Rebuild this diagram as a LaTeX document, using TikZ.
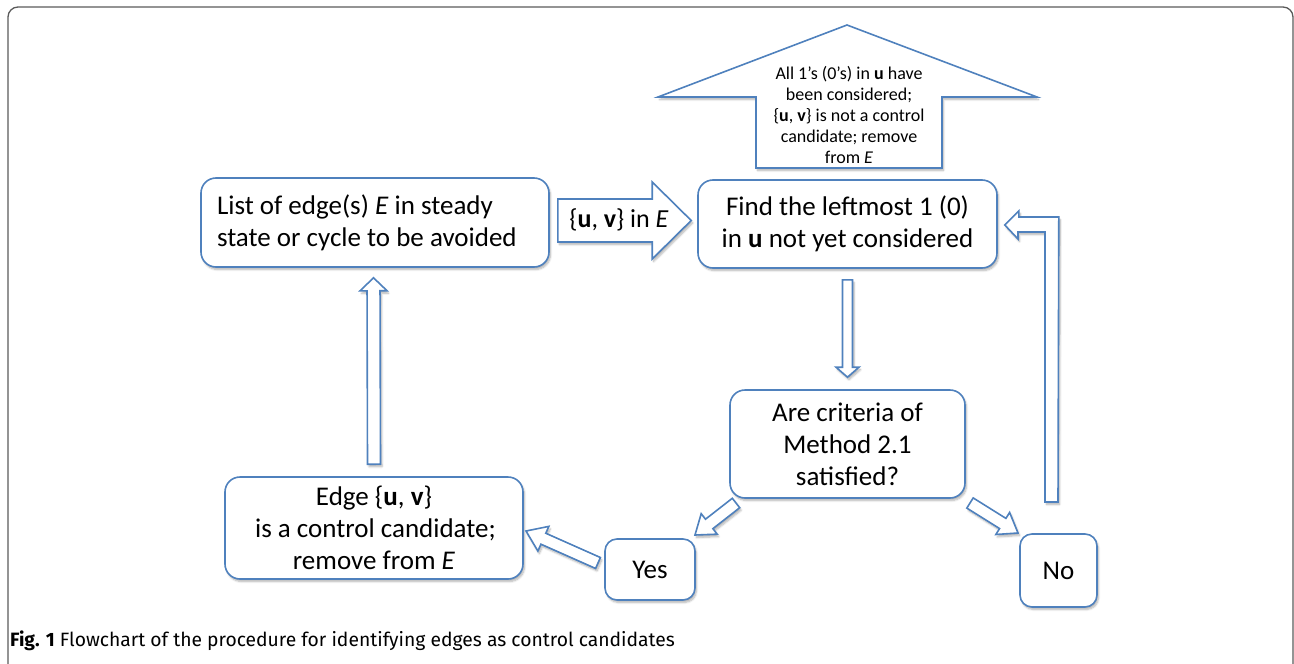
\documentclass[tikz,border=0pt]{standalone}
\usepackage{fontspec}
\setmainfont{Carlito}
\newfontfamily\capfont{Fira Sans}
\usetikzlibrary{calc,shadows.blur}
\definecolor{bblue}{HTML}{4F81BD}
\definecolor{framegray}{HTML}{5A5A5A}
\tikzset{
  shad/.style={blur shadow={shadow xshift=1.5pt, shadow yshift=-2.5pt, shadow opacity=30, shadow blur steps=6}},
  box/.style={draw=bblue, line width=1.6pt, rounded corners=15pt, fill=white, inner sep=0pt,
    align=center, font=\fontsize{27}{32}\selectfont, shad},
  smallbox/.style={box, rounded corners=12pt},
  arr/.style={draw=bblue, line width=1.6pt, fill=white, line join=miter, shad},
}
\newcommand\barrow[5]{%
  \path ($(#2)!#5!(#1)$) coordinate (bn);
  \draw[arr] ($(#1)!#3!90:(#2)$) -- ($(bn)!#3!90:(#2)$) -- ($(bn)!#4!90:(#2)$) -- (#2)
    -- ($(bn)!#4!-90:(#2)$) -- ($(bn)!#3!-90:(#2)$) -- ($(#1)!#3!-90:(#2)$) -- cycle;}
\begin{document}
\begin{tikzpicture}[x=1pt,y=-1pt]
\useasboundingbox (0,0) rectangle (1294,664);
% frame
\draw[framegray, line width=1.3pt, rounded corners=10pt] (8,720) -- (8,7) -- (1293,7) -- (1293,720);

% boxes
\node[box, minimum width=348pt, minimum height=89pt, text width=316pt, align=flush left] (list) at (375,222.5)
  {List of edge(s) \textit{E} in steady\\state or cycle to be avoided};
\node[box, minimum width=299pt, minimum height=88pt] (find) at (847.5,224)
  {Find the leftmost 1 (0)\\in \textbf{u} not yet considered};
\node[box, minimum width=235pt, minimum height=108pt] (crit) at (847.5,444)
  {Are criteria of\\Method 2.1\\satisfied?};
\node[box, minimum width=298pt, minimum height=102pt] (cand) at (374,528)
  {Edge \{\textbf{u}, \textbf{v}\}\\\hspace*{3pt}is a control candidate;\\remove from \textit{E}};
\node[smallbox, minimum width=90pt, minimum height=61pt] (yes) at (650,569.5) {Yes};
\node[smallbox, minimum width=77pt, minimum height=73pt] (no) at (1058.5,570.5) {No};

% top block arrow with note
\draw[arr] (847,25) -- (1037,97) -- (942,97) -- (942,168) -- (756,168) -- (756,97) -- (658,97) -- cycle;
\node[align=center, inner sep=0pt, font=\fontsize{18}{21}\selectfont] (note) at (849,115)
  {All 1’s (0’s) in \textbf{u} have\\been considered;\\\{\textbf{u}, \textbf{v}\} is not a control\\candidate; remove\\from \textit{E}};

% block arrows
\coordinate (eT) at ($(list.east)+(8,-2)$);
\coordinate (eH) at ($(find.west)+(-6,-3.5)$);
\barrow{eT}{eH}{21.5pt}{38.5pt}{39pt}
\node[inner sep=0pt, font=\fontsize{26}{30}\selectfont] (edge) at (619,220) {\{\textbf{u}, \textbf{v}\} in \textit{E}};

\coordinate (dT) at ($(find.south)+(0,11)$);
\coordinate (dH) at ($(crit.north)+(0,-12)$);
\barrow{dT}{dH}{5pt}{11.5pt}{10pt}

\coordinate (uT) at ($(cand.north)+(0,-12)$);
\coordinate (uH) at ($(list.south)+(-1.5,10)$);
\barrow{uT}{uH}{6.5pt}{13.5pt}{13pt}

\coordinate (yT) at (736,503);
\coordinate (yH) at (695,535);
\barrow{yT}{yH}{6pt}{13pt}{18pt}

\coordinate (cT) at (598,563);
\coordinate (cH) at (526,531);
\barrow{cT}{cH}{6pt}{13.5pt}{19pt}

\coordinate (nT) at (970,503);
\coordinate (nH) at (1018,533);
\barrow{nT}{nH}{6pt}{13pt}{18pt}

% bent return arrow from No to Find
\coordinate (rH) at ($(find.east)+(7,1)$);
\draw[arr] (rH) -- ++(14,-14) -- ++(0,6) -- ++(40,0) -- (1058,502) -- (1045,502) -- (1045,232)
  -- (1018,232) -- (1018,239) -- cycle;

% caption
\node[anchor=west, inner sep=0pt, font=\capfont\fontsize{19.3}{22}\selectfont] (cap) at (10,641)
  {\textbf{Fig. 1} Flowchart of the procedure for identifying edges as control candidates};
\end{tikzpicture}
\end{document}
